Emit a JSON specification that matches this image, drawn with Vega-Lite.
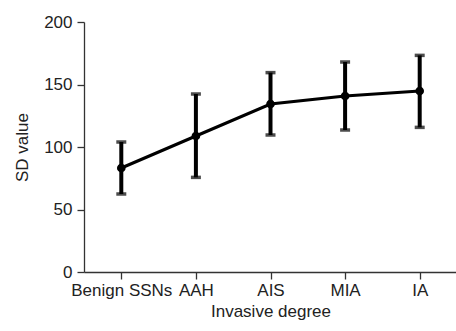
{
  "$schema": "https://vega.github.io/schema/vega-lite/v6.json",
  "autosize": {"type": "none"},
  "padding": {"left": 84, "top": 22, "right": 0, "bottom": 59},
  "width": 373,
  "height": 250,
  "background": "white",
  "config": {
    "view": {"stroke": null},
    "font": "Liberation Sans",
    "axis": {
      "grid": false,
      "domainColor": "#333333",
      "tickColor": "#333333",
      "domainWidth": 1.3,
      "tickWidth": 1.3,
      "tickSize": 7,
      "labelFont": "Liberation Sans",
      "titleFont": "Liberation Sans",
      "labelFontSize": 17,
      "titleFontSize": 17,
      "labelColor": "#222222",
      "titleColor": "#222222",
      "titleFontWeight": "normal"
    }
  },
  "data": {
    "values": [
      {"group": "Benign SSNs", "mean": 83.2, "low": 62.4, "high": 104},
      {"group": "AAH", "mean": 108.8, "low": 75.7, "high": 142.4},
      {"group": "AIS", "mean": 134.4, "low": 109.6, "high": 159.5},
      {"group": "MIA", "mean": 140.8, "low": 113.6, "high": 168},
      {"group": "IA", "mean": 144.8, "low": 115.7, "high": 173.3}
    ]
  },
  "encoding": {
    "x": {
      "field": "group",
      "type": "ordinal",
      "sort": null,
      "scale": {"type": "point", "padding": 0.5},
      "axis": {"title": "Invasive degree", "labelAngle": 0, "labelPadding": 3, "titlePadding": 5}
    }
  },
  "layer": [
    {
      "mark": {"type": "rule", "color": "black", "strokeWidth": 4},
      "encoding": {
        "y": {"field": "low", "type": "quantitative"},
        "y2": {"field": "high"}
      }
    },
    {
      "mark": {"type": "tick", "color": "black", "thickness": 3.5, "size": 10, "orient": "horizontal"},
      "encoding": {"y": {"field": "low", "type": "quantitative"}}
    },
    {
      "mark": {"type": "tick", "color": "black", "thickness": 3.5, "size": 10, "orient": "horizontal"},
      "encoding": {"y": {"field": "high", "type": "quantitative"}}
    },
    {
      "mark": {"type": "line", "color": "black", "strokeWidth": 3},
      "encoding": {"y": {"field": "mean", "type": "quantitative"}}
    },
    {
      "mark": {"type": "point", "filled": true, "color": "black", "opacity": 1, "size": 75},
      "encoding": {
        "y": {
          "field": "mean",
          "type": "quantitative",
          "scale": {"domain": [0, 200]},
          "axis": {"title": "SD value", "values": [0, 50, 100, 150, 200], "labelPadding": 5, "titlePadding": 12}
        }
      }
    }
  ]
}
